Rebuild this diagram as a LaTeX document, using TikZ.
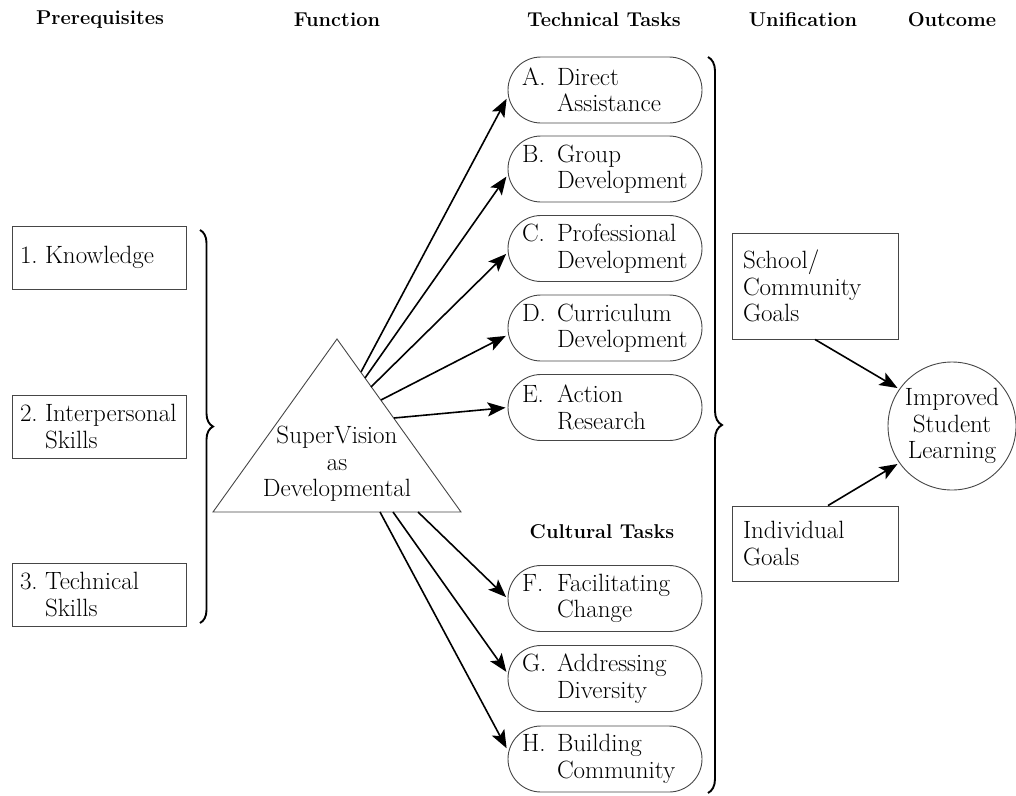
\documentclass[tikz,border=0pt]{standalone}
\usepackage{tikz}
\usetikzlibrary{arrows.meta,decorations.pathreplacing}
\definecolor{inkgray}{RGB}{70, 70, 70}
\newcommand{\tasklines}[3]{\makebox[35pt][l]{#1}#2\\\hspace*{35pt}#3}
\newcommand{\prereqlines}[3]{\makebox[25pt][l]{#1}#2\\\hspace*{25pt}#3}

\begin{document}
\begin{tikzpicture}[x=1pt, y=-1pt,
    every node/.style={font=\fontsize{25}{26.5}\selectfont, inner sep=0pt},
    header/.style={font=\fontsize{20}{23}\selectfont\bfseries},
    prereq/.style={draw=inkgray, line width=0.9pt, minimum width=174pt, minimum height=63pt, text width=158pt, align=left},
    task/.style={draw=inkgray, line width=0.9pt, rounded corners=33pt, minimum width=194pt, minimum height=66pt, text width=166pt, align=left},
    goal/.style={draw=inkgray, line width=0.9pt, minimum width=166pt, text width=144pt, align=left},
    outcome/.style={draw=inkgray, line width=0.9pt, circle, minimum size=128pt, align=center},
    arrow/.style={-{Stealth[length=18pt, width=14pt, inset=4pt]}, line width=1.6pt, shorten >=2pt},
    bracket/.style={decorate, decoration={brace, amplitude=#1}, line width=1.9pt}
]
\useasboundingbox (0,0) rectangle (1016,795);

% headings
\node[header] (hpre)  at (100, 20) {Prerequisites};
\node[header] (hfun)  at (337, 20) {Function};
\node[header] (htech) at (604, 20) {Technical Tasks};
\node[header] (huni)  at (803, 20) {Unification};
\node[header] (hout)  at (952, 20) {Outcome};
\node[header] (hcult) at (602,532) {Cultural Tasks};

% prerequisites
\node[prereq] (know)  at (99,257.5) {\makebox[25pt][l]{1.}Knowledge};
\node[prereq] (inter) at (99,426.5) {\prereqlines{2.}{Interpersonal}{Skills}};
\node[prereq] (techs) at (99,594.5) {\prereqlines{3.}{Technical}{Skills}};
\draw[bracket=13pt] (200,230) -- (200,623);

% function
\draw[draw=inkgray, line width=0.9pt] (337,339) -- (461,512) -- (213,512) -- cycle;
\node[align=center] (sv) at (337,464) {SuperVision\\as\\Developmental};
\coordinate (svA) at (361,372);
\coordinate (svB) at (365,378);
\coordinate (svC) at (371,387);
\coordinate (svD) at (381,400);
\coordinate (svE) at (394,418);
\coordinate (svF) at (418,512);
\coordinate (svG) at (393,512);
\coordinate (svH) at (380,512);

% tasks
\node[task] (taskA) at (605, 90.0) {\tasklines{A.}{Direct}{Assistance}};
\node[task] (taskB) at (605,169.0) {\tasklines{B.}{Group}{Development}};
\node[task] (taskC) at (605,248.5) {\tasklines{C.}{Professional}{Development}};
\node[task] (taskD) at (605,328.0) {\tasklines{D.}{Curriculum}{Development}};
\node[task] (taskE) at (605,407.5) {\tasklines{E.}{Action}{Research}};
\node[task] (taskF) at (605,598.5) {\tasklines{F.}{Facilitating}{Change}};
\node[task] (taskG) at (605,678.5) {\tasklines{G.}{Addressing}{Diversity}};
\node[task] (taskH) at (605,759.0) {\tasklines{H.}{Building}{Community}};
\draw[bracket=14pt] (708,57) -- (708,793);

\draw[arrow] (svA) -- ([yshift=-7pt]taskA.west);
\draw[arrow] (svB) -- ([yshift=-6pt]taskB.west);
\draw[arrow] (svC) -- ([yshift=-4pt]taskC.west);
\draw[arrow] (svD) -- ([yshift=-7pt]taskD.west);
\draw[arrow] (svE) -- (taskE.west);
\draw[arrow] (svF) -- (taskF.west);
\draw[arrow] (svG) -- ([yshift=5pt]taskG.west);
\draw[arrow] (svH) -- ([yshift=9pt]taskH.west);

% unification and outcome
\node[goal, minimum height=106pt] (school) at (815,286.0) {School/\\Community\\Goals};
\node[goal, minimum height=75pt]  (indiv)  at (815,543.5) {Individual\\Goals};
\node[outcome] (learning) at (952,426) {Improved\\Student\\Learning};
\draw[arrow] (school.south) -- (learning.145);
\draw[arrow] ([xshift=13pt]indiv.north) -- (learning.215);
\end{tikzpicture}
\end{document}
